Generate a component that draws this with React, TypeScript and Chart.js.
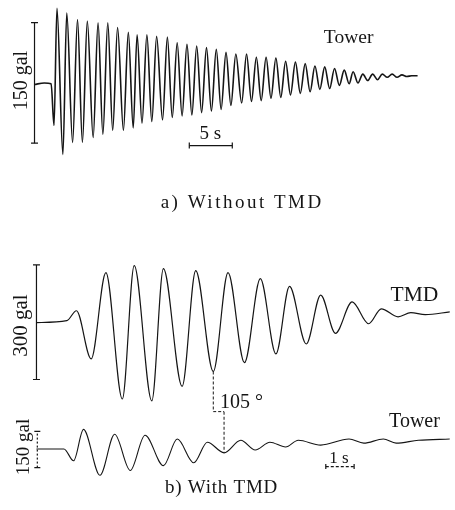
import { useEffect, useRef } from "react";
import { Chart, registerables } from "chart.js";

Chart.register(...registerables);

// ---------- a) Without TMD : tower acceleration (time s, accel gal) ----------
const towerATime = [0, 1.14, 1.93, 2.27, 2.61, 3.3, 3.75, 4.43, 5.0, 5.57, 6.14, 6.82, 7.39, 7.95, 8.52, 9.09, 9.66, 10.34, 10.91, 11.48, 11.93, 12.5, 13.07, 13.64, 14.2, 14.89, 15.45, 16.02, 16.59, 17.16, 17.73, 18.3, 18.86, 19.43, 20.0, 20.57, 21.14, 21.7, 22.27, 22.84, 23.41, 24.09, 24.66, 25.23, 25.8, 26.36, 26.93, 27.5, 28.07, 28.64, 29.2, 29.77, 30.34, 30.91, 31.48, 32.05, 32.61, 33.18, 33.75, 34.32, 34.89, 35.45, 36.02, 36.59, 37.05, 37.61, 38.18, 38.75, 39.32, 39.89, 40.45, 41.02, 41.59, 42.16, 42.73, 43.3, 43.86, 44.55];
const towerAAccel = [0, 2, 1, -51, 95, -87, 89, -72, 81, -72, 79, -66, 77, -62, 77, -57, 71, -57, 65, -54, 62, -48, 62, -46, 60, -44, 59, -41, 52, -39, 50, -38, 48, -35, 46, -33, 44, -31, 40, -26, 38, -23, 38, -21, 34, -20, 34, -17, 33, -16, 29, -13, 28, -11, 26, -9, 23, -6, 22, -5, 20, -1, 18, 1, 16, 2, 13, 5, 13, 6, 13, 9, 13, 9, 12, 10, 11, 11];

// ---------- b) With TMD : TMD and tower acceleration ----------
const tmdTime = [0, 1.07, 1.41, 1.93, 2.45, 3.03, 3.45, 4.07, 4.48, 5.14, 5.62, 6.24, 6.76, 7.34, 7.9, 8.45, 8.93, 9.52, 10.03, 10.55, 11.14, 11.72, 12.17, 12.76, 13.21, 13.72, 14.59];
const tmdAccel = [0, 5, 31, -95, 131, -200, 149, -205, 141, -167, 136, -128, 131, -105, 115, -82, 95, -56, 72, -28, 54, -3, 36, 15, 26, 21, 28];

const towerBTime = [0, 0.97, 1.31, 1.66, 2.24, 2.76, 3.31, 3.83, 4.48, 4.97, 5.55, 6.03, 6.62, 7.21, 7.72, 8.24, 8.79, 9.24, 10.03, 11.03, 11.55, 12.24, 12.69, 13.48, 14.59];
const towerBAccel = [0, 0, -49, 81, -109, 61, -89, 57, -69, 41, -57, 28, -16, 36, -4, 28, 8, 36, 16, 41, 24, 41, 24, 36, 41];

// ---------- scale bars ----------
const barA150Time = [0, 0];
const barA150Accel = [-73, 77];
const barA5sTime = [18, 23];
const barA5sAccel = [-76, -76];
const barTmd300Time = [0, 0];
const barTmd300Accel = [-149, 151];
const barB150Time = [0.03, 0.03];
const barB150Accel = [-77, 73];
const barB1sTime = [10.21, 11.21];
const barB1sAccel = [-73, -73];

// phase marker (105°): TMD trough index 11, tower trough index 12
const TMD_TROUGH = 11;
const TOWER_TROUGH = 12;
const phaseStepTmd = -233; // gal on TMD scale
const phaseStepTower = 154; // gal on tower scale

// ---------- layout geometry (pixels) ----------
const W = 455;
const H = 510;
const GEO = {
  a: { x0: 30, pxPerS: 8.8, y0: 81, pxPerGal: 123 / 150 },
  b: { x0: 32, pxPerS: 29 },
  tmd: { y0: 324, pxPerGal: 117 / 300 },
  towerB: { y0: 453, pxPerGal: 37 / 150 },
};

const INK = "#151515";
const FONT = "'Liberation Serif', 'Times New Roman', serif";

const LABELS = [
  { text: "Tower", x: 36.53, y: 58.6, xAxis: "xa", yAxis: "ya", size: 19.5 },
  { text: "150 gal", x: -1.48, y: 4.9, xAxis: "xa", yAxis: "ya", size: 20, rotate: -90 },
  { text: "5 s", x: 20.45, y: -61.6, xAxis: "xa", yAxis: "ya", size: 19 },
  { text: "a) Without TMD", x: 24.15, y: -147.6, xAxis: "xa", yAxis: "ya", size: 19, spacing: 2.5 },
  { text: "300 gal", x: -0.52, y: -7.7, xAxis: "xb", yAxis: "yb", size: 21, rotate: -90 },
  { text: "TMD", x: 13.34, y: 71.8, xAxis: "xb", yAxis: "yb", size: 21.5 },
  { text: "105 °", x: 6.48, y: -210, xAxis: "xb", yAxis: "yb", size: 20, align: "left" },
  { text: "Tower", x: 13.34, y: 113.5, xAxis: "xb", yAxis: "yc", size: 20 },
  { text: "150 gal", x: -0.45, y: 8, xAxis: "xb", yAxis: "yc", size: 19, rotate: -90 },
  { text: "1 s", x: 10.67, y: -40.5, xAxis: "xb", yAxis: "yc", size: 17 },
  { text: "b) With TMD", x: 6.53, y: -162, xAxis: "xb", yAxis: "yc", size: 19, spacing: 0.75 },
];

const zip = (xs: number[], ys: number[]) => xs.map((x, i) => ({ x, y: ys[i] }));

const labelPlugin = {
  id: "figureLabels",
  afterDatasetsDraw(chart: any) {
    const ctx = chart.ctx as CanvasRenderingContext2D;
    for (const l of LABELS as any[]) {
      const px = chart.scales[l.xAxis].getPixelForValue(l.x);
      const py = chart.scales[l.yAxis].getPixelForValue(l.y);
      ctx.save();
      ctx.translate(px, py);
      if (l.rotate) ctx.rotate((l.rotate * Math.PI) / 180);
      ctx.font = `normal ${l.size}px ${FONT}`;
      (ctx as any).letterSpacing = `${l.spacing || 0}px`;
      ctx.textAlign = l.align || "center";
      ctx.textBaseline = "middle";
      ctx.fillStyle = INK;
      ctx.fillText(l.text, 0, 0);
      ctx.restore();
    }
  },
};

export default function App() {
  const ref = useRef<HTMLCanvasElement | null>(null);

  useEffect(() => {
    if (!ref.current) return;
    const trace = (data: any[], xAxisID: string, yAxisID: string, width: number) => ({
      data,
      xAxisID,
      yAxisID,
      showLine: true,
      borderColor: INK,
      borderWidth: width,
      pointRadius: 0,
      cubicInterpolationMode: "monotone",
      fill: false,
    });
    const bar = (
      data: any[],
      xAxisID: string,
      yAxisID: string,
      capRotation: number,
      capRadius: number,
      dash: number[] = []
    ) => ({
      data,
      xAxisID,
      yAxisID,
      showLine: true,
      borderColor: INK,
      borderWidth: 1.2,
      borderDash: dash,
      tension: 0,
      pointStyle: "line",
      pointRotation: capRotation,
      pointRadius: capRadius,
      pointBorderColor: INK,
      pointBorderWidth: 1.2,
      fill: false,
    });
    const plain = (data: any[], xAxisID: string, yAxisID: string, dash: number[]) => ({
      data,
      xAxisID,
      yAxisID,
      showLine: true,
      borderColor: INK,
      borderWidth: 1,
      borderDash: dash,
      tension: 0,
      pointRadius: 0,
      fill: false,
    });

    const tT = tmdTime[TMD_TROUGH];
    const tW = towerBTime[TOWER_TROUGH];

    const chart = new Chart(ref.current, {
      type: "scatter",
      data: {
        datasets: [
          trace(zip(towerATime, towerAAccel), "xa", "ya", 1.6),
          trace(zip(tmdTime, tmdAccel), "xb", "yb", 1.2),
          trace(zip(towerBTime, towerBAccel), "xb", "yc", 1.1),
          bar(zip(barA150Time, barA150Accel), "xa", "ya", 0, 3.5),
          bar(zip(barA5sTime, barA5sAccel), "xa", "ya", 90, 3),
          bar(zip(barTmd300Time, barTmd300Accel), "xb", "yb", 0, 3.5),
          bar(zip(barB150Time, barB150Accel), "xb", "yc", 0, 3, [2, 2]),
          bar(zip(barB1sTime, barB1sAccel), "xb", "yc", 90, 2.5, [3, 2]),
          plain(
            [
              { x: tT, y: tmdAccel[TMD_TROUGH] },
              { x: tT, y: phaseStepTmd },
              { x: tW, y: phaseStepTmd },
            ],
            "xb",
            "yb",
            [3, 2]
          ),
          plain(
            [
              { x: tW, y: phaseStepTower },
              { x: tW, y: towerBAccel[TOWER_TROUGH] },
            ],
            "xb",
            "yc",
            [3, 2]
          ),
        ] as any,
      },
      options: {
        responsive: false,
        animation: false,
        devicePixelRatio: 1,
        events: [],
        layout: { padding: 0 },
        plugins: { legend: { display: false }, tooltip: { enabled: false } },
        scales: {
          xa: {
            type: "linear",
            axis: "x",
            display: false,
            min: -GEO.a.x0 / GEO.a.pxPerS,
            max: (W - GEO.a.x0) / GEO.a.pxPerS,
          },
          ya: {
            type: "linear",
            axis: "y",
            display: false,
            min: -(H - GEO.a.y0) / GEO.a.pxPerGal,
            max: GEO.a.y0 / GEO.a.pxPerGal,
          },
          xb: {
            type: "linear",
            axis: "x",
            display: false,
            min: -GEO.b.x0 / GEO.b.pxPerS,
            max: (W - GEO.b.x0) / GEO.b.pxPerS,
          },
          yb: {
            type: "linear",
            axis: "y",
            display: false,
            min: -(H - GEO.tmd.y0) / GEO.tmd.pxPerGal,
            max: GEO.tmd.y0 / GEO.tmd.pxPerGal,
          },
          yc: {
            type: "linear",
            axis: "y",
            display: false,
            min: -(H - GEO.towerB.y0) / GEO.towerB.pxPerGal,
            max: GEO.towerB.y0 / GEO.towerB.pxPerGal,
          },
        } as any,
      },
      plugins: [labelPlugin as any],
    });
    return () => chart.destroy();
  }, []);

  return (
    <div style={{ position: "fixed", left: 0, top: 0, width: W, height: H, background: "#fff" }}>
      <canvas ref={ref} width={W} height={H} style={{ display: "block", width: W, height: H }} />
    </div>
  );
}
